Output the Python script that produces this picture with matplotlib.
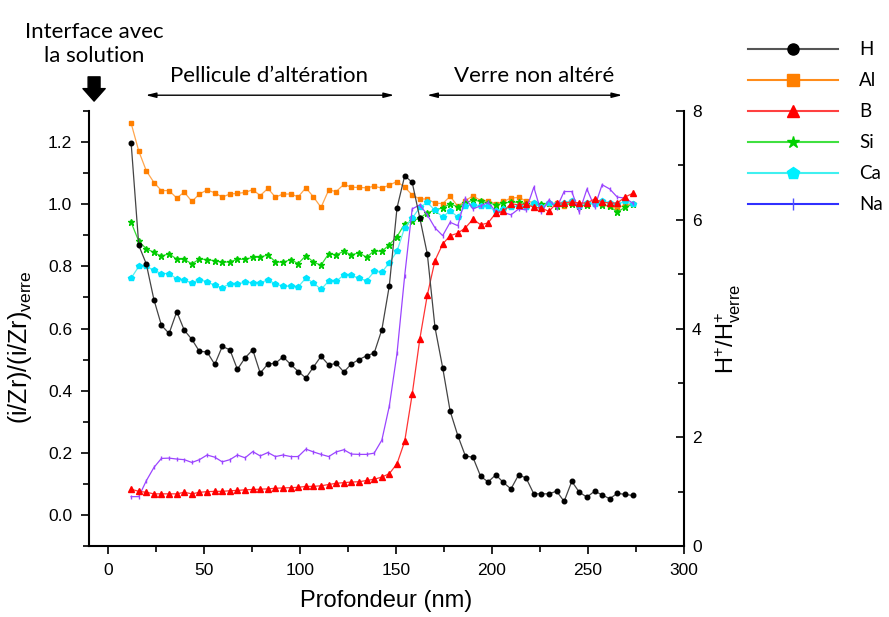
import matplotlib
matplotlib.use('Agg')
import matplotlib.pyplot as plt
from matplotlib.lines import Line2D
from matplotlib.ticker import MultipleLocator

plt.rcParams['font.family'] = ['Liberation Sans', 'DejaVu Sans']
plt.rcParams['mathtext.default'] = 'regular'

# depth (nm), common to all profiles
depth = [12.0, 16.0, 19.9, 23.9, 27.8, 31.8, 35.8, 39.7, 43.7, 47.6, 51.6, 55.6,
         59.5, 63.5, 67.4, 71.4, 75.4, 79.3, 83.3, 87.2, 91.2, 95.2, 99.1, 103.1,
         107.0, 111.0, 115.0, 118.9, 122.9, 126.8, 130.8, 134.8, 138.7, 142.7,
         146.6, 150.6, 154.6, 158.5, 162.5, 166.4, 170.4, 174.4, 178.3, 182.3,
         186.2, 190.2, 194.2, 198.1, 202.1, 206.0, 210.0, 214.0, 217.9, 221.9,
         225.8, 229.8, 233.8, 237.7, 241.7, 245.6, 249.6, 253.6, 257.5, 261.5,
         265.4, 269.4, 273.4]

# H+/H+verre (right axis)
h_ratio = [7.42, 5.53, 5.19, 4.53, 4.06, 3.91, 4.31, 3.97, 3.80, 3.58, 3.57, 3.34,
           3.67, 3.61, 3.25, 3.46, 3.61, 3.18, 3.35, 3.36, 3.48, 3.34, 3.21, 3.09,
           3.29, 3.49, 3.33, 3.36, 3.20, 3.35, 3.43, 3.50, 3.55, 3.98, 4.79, 6.22,
           6.81, 6.69, 6.03, 5.37, 4.02, 3.28, 2.48, 2.03, 1.66, 1.63, 1.28, 1.18,
           1.31, 1.17, 1.05, 1.31, 1.25, 0.96, 0.96, 0.96, 1.01, 0.82, 1.19, 0.99,
           0.90, 1.01, 0.94, 0.87, 0.97, 0.95, 0.93]

# (i/Zr)/(i/Zr)verre (left axis)
al = [1.261, 1.171, 1.108, 1.070, 1.044, 1.044, 1.020, 1.039, 1.009, 1.033, 1.046,
      1.037, 1.023, 1.033, 1.035, 1.038, 1.047, 1.028, 1.051, 1.023, 1.033, 1.033,
      1.024, 1.053, 1.024, 0.990, 1.046, 1.041, 1.064, 1.055, 1.054, 1.053, 1.058,
      1.052, 1.062, 1.073, 1.055, 1.030, 1.017, 1.017, 1.004, 1.002, 1.026, 0.993,
      1.012, 1.027, 1.012, 1.012, 1.001, 1.009, 1.020, 1.022, 1.011, 1.005, 0.995,
      1.000, 1.005, 0.995, 1.010, 0.995, 1.000, 1.005, 1.000, 0.995, 0.985, 1.000,
      1.000]

b = [0.083, 0.076, 0.073, 0.068, 0.068, 0.068, 0.068, 0.073, 0.068, 0.073, 0.075,
     0.076, 0.076, 0.078, 0.079, 0.081, 0.082, 0.083, 0.084, 0.086, 0.087, 0.088,
     0.089, 0.092, 0.092, 0.094, 0.098, 0.102, 0.104, 0.106, 0.107, 0.111, 0.115,
     0.122, 0.133, 0.165, 0.237, 0.388, 0.567, 0.708, 0.819, 0.872, 0.899, 0.907,
     0.924, 0.952, 0.934, 0.940, 0.972, 0.977, 1.002, 0.998, 1.001, 0.990, 0.988,
     0.977, 1.004, 1.004, 1.008, 1.004, 1.004, 1.017, 1.007, 1.004, 1.004, 1.023,
     1.035]

si = [0.942, 0.881, 0.857, 0.845, 0.833, 0.841, 0.823, 0.823, 0.808, 0.824, 0.822,
      0.818, 0.813, 0.815, 0.823, 0.823, 0.829, 0.830, 0.837, 0.815, 0.813, 0.822,
      0.809, 0.835, 0.814, 0.804, 0.841, 0.837, 0.849, 0.837, 0.844, 0.829, 0.851,
      0.848, 0.870, 0.896, 0.937, 0.946, 0.956, 0.972, 0.982, 0.988, 1.002, 0.991,
      1.004, 1.014, 1.009, 1.005, 0.998, 1.003, 1.008, 1.006, 1.002, 0.998, 1.000,
      1.003, 0.995, 1.001, 1.000, 0.993, 0.998, 1.005, 0.998, 0.993, 0.975, 0.990,
      1.000]

ca = [0.762, 0.800, 0.800, 0.788, 0.777, 0.777, 0.760, 0.755, 0.748, 0.757, 0.751,
      0.739, 0.732, 0.744, 0.744, 0.749, 0.747, 0.747, 0.757, 0.744, 0.736, 0.736,
      0.734, 0.763, 0.747, 0.726, 0.753, 0.752, 0.773, 0.771, 0.762, 0.754, 0.784,
      0.781, 0.812, 0.849, 0.925, 0.955, 0.990, 1.006, 0.980, 0.959, 0.979, 0.959,
      0.996, 0.998, 0.993, 0.993, 0.977, 0.985, 0.990, 0.995, 0.990, 1.005, 0.990,
      1.005, 1.000, 1.005, 1.010, 0.995, 1.005, 1.000, 1.010, 1.005, 1.000, 1.010,
      1.000]

na = [0.059, 0.059, 0.110, 0.153, 0.182, 0.183, 0.180, 0.178, 0.169, 0.178, 0.193,
      0.186, 0.171, 0.178, 0.193, 0.184, 0.204, 0.190, 0.201, 0.188, 0.193, 0.188,
      0.188, 0.212, 0.203, 0.195, 0.188, 0.203, 0.210, 0.196, 0.195, 0.195, 0.199,
      0.241, 0.351, 0.520, 0.770, 0.985, 0.998, 0.966, 0.924, 0.899, 0.942, 0.931,
      1.020, 0.985, 0.995, 1.006, 0.977, 0.974, 0.966, 0.985, 0.982, 1.055, 0.974,
      1.014, 0.988, 1.041, 1.041, 0.974, 1.049, 0.991, 1.063, 1.049, 1.023, 1.020,
      1.004]

labels = ['H', 'Al', 'B', 'Si', 'Ca', 'Na']

TXT_FONT = ['Lato', 'DejaVu Sans']


def main():
    fig = plt.figure(figsize=(8.89, 6.17), dpi=100)
    ax = fig.add_axes([0.100, 0.115, 0.669, 0.705])
    ax2 = ax.twinx()

    # left axis profiles
    ax.plot(depth, al, color='#FFA64D', lw=0.9, marker='s', ms=3.5,
            mfc='#FF7F00', mec='#FF7F00', zorder=3)
    ax.plot(depth, si, color='#33DD33', lw=0.9, marker='*', ms=5,
            mfc='#00CC00', mec='#00CC00', zorder=3)
    ax.plot(depth, ca, color='#55F0F0', lw=0.9, marker='p', ms=4.2,
            mfc='#00E5FF', mec='#00E5FF', zorder=3)
    ax.plot(depth, na, color='#9B45FF', lw=0.9, marker='|', ms=3,
            mec='#9B45FF', zorder=3)
    ax.plot(depth, b, color='#FF3333', lw=0.9, marker='^', ms=3.8,
            mfc='#FF0000', mec='#FF0000', zorder=3)

    # H on right axis
    ax2.plot(depth, h_ratio, color='#444444', lw=0.9, marker='o', ms=3.3,
             mfc='black', mec='black', zorder=3)

    ax.set_xlim(-10, 300)
    ax.set_ylim(-0.1, 1.3)
    ax2.set_ylim(0, 8)

    ax.xaxis.set_major_locator(MultipleLocator(50))
    ax.xaxis.set_minor_locator(MultipleLocator(25))
    ax.set_yticks([0.0, 0.2, 0.4, 0.6, 0.8, 1.0, 1.2])
    ax.yaxis.set_minor_locator(MultipleLocator(0.1))
    ax2.yaxis.set_major_locator(MultipleLocator(2))
    ax2.yaxis.set_minor_locator(MultipleLocator(1))

    for a in (ax, ax2):
        a.spines['top'].set_visible(False)
        for s in a.spines.values():
            s.set_linewidth(1.5)
    ax.spines['right'].set_visible(False)
    ax2.spines['left'].set_visible(False)
    ax2.spines['bottom'].set_visible(False)

    ax.tick_params(axis='both', which='major', direction='out', length=6,
                   width=1.2, labelsize=12.5, pad=6)
    ax.tick_params(axis='both', which='minor', direction='out', length=4, width=1.2)
    ax2.tick_params(axis='y', which='major', direction='in', length=6,
                    width=1.2, labelsize=12.5, pad=6)
    ax2.tick_params(axis='y', which='minor', direction='in', length=4, width=1.2)

    ax.set_xlabel('Profondeur (nm)', fontsize=17, labelpad=9)
    ax.set_ylabel('(i/Zr)/(i/Zr)$_{verre}$', fontsize=18)
    ax.yaxis.set_label_coords(-0.092, 0.457)
    ax2.set_ylabel('H$^{+}$/H$^{+}_{verre}$', fontsize=17, labelpad=9)

    # annotations above the plot
    ax.text(-7.3, 1.515, 'Interface avec\nla solution', ha='center', va='center',
            fontsize=16, family=TXT_FONT, linespacing=1.25)
    ax.annotate('', xy=(-7.3, 1.332), xytext=(-7.3, 1.41),
                arrowprops=dict(arrowstyle='simple,head_length=0.45,head_width=0.8,tail_width=0.43',
                                fc='black', ec='black', shrinkA=0, shrinkB=0,
                                mutation_scale=20),
                annotation_clip=False)

    ax.text(83.7, 1.412, 'Pellicule d’altération', ha='center', va='center',
            fontsize=16, family=TXT_FONT)
    ax.annotate('', xy=(19.6, 1.351), xytext=(149.1, 1.351),
                arrowprops=dict(arrowstyle='<|-|>,head_length=0.6,head_width=0.15',
                                color='black', lw=1, shrinkA=0, shrinkB=0,
                                mutation_scale=10),
                annotation_clip=False)

    ax.text(222.1, 1.412, 'Verre non altéré', ha='center', va='center',
            fontsize=16, family=TXT_FONT)
    ax.annotate('', xy=(166.3, 1.351), xytext=(268.0, 1.351),
                arrowprops=dict(arrowstyle='<|-|>,head_length=0.6,head_width=0.15',
                                color='black', lw=1, shrinkA=0, shrinkB=0,
                                mutation_scale=10),
                annotation_clip=False)

    # legend outside on the right
    handles = [
        Line2D([], [], color='#555555', lw=1.5, marker='o', ms=8, mfc='black', mec='black'),
        Line2D([], [], color='#FF8C1A', lw=1.5, marker='s', ms=8, mfc='#FF7F00', mec='#FF7F00'),
        Line2D([], [], color='#FF4040', lw=1.5, marker='^', ms=8, mfc='#FF0000', mec='#FF0000'),
        Line2D([], [], color='#40E040', lw=1.5, marker='*', ms=9, mfc='#00D000', mec='#00D000'),
        Line2D([], [], color='#40F0F0', lw=1.5, marker='p', ms=9, mfc='#00F0FF', mec='#00F0FF'),
        Line2D([], [], color='#3030FF', lw=1.5, marker='|', ms=8, mec='#5050FF'),
    ]
    fig.legend(handles, labels, loc='upper left', bbox_to_anchor=(0.8313, 0.9486),
               frameon=False, borderpad=0, handlelength=4.8, handletextpad=1.1,
               labelspacing=0.75, prop={'family': TXT_FONT, 'size': 13.5})

    fig.savefig('out.png', dpi=100)
    plt.close(fig)


if __name__ == '__main__':
    main()
